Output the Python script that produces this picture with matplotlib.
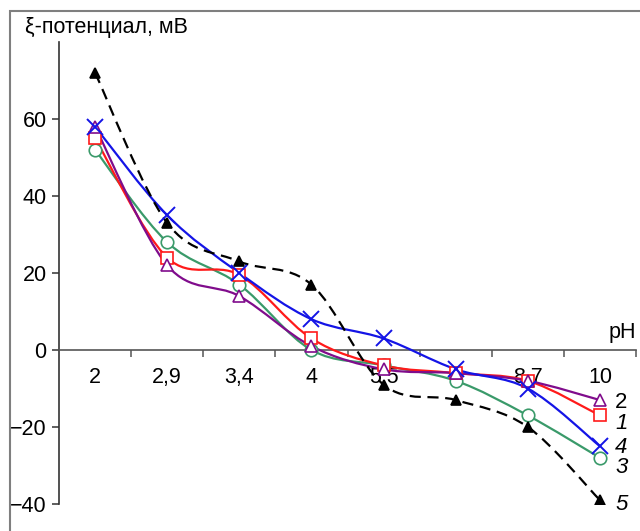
import matplotlib
matplotlib.use("Agg")
import matplotlib.pyplot as plt
import numpy as np
from matplotlib.path import Path
from matplotlib.patches import PathPatch, Rectangle

plt.rcParams['font.family'] = ['Liberation Sans', 'DejaVu Sans']

categories = ["2", "2,9", "3,4", "4", "5,5", "7", "8,7", "10"]
s1 = [55, 24, 19.5, 3, -4, -6, -8, -17]    # red squares
s2 = [58, 22, 14, 1, -5, -6, -8, -13]      # purple triangles
s3 = [52, 28, 17, 0, -4, -8, -17, -28]     # green circles
s4 = [58, 35, 20, 8, 3, -5, -10, -25]      # blue crosses
s5 = [72, 33, 23, 17, -9, -13, -20, -39]   # black dashed, filled triangles
yticks = [-40, -20, 0, 20, 40, 60]

FS = 15.5

fig = plt.figure(figsize=(6.4, 5.31), dpi=100)
# outer frame
fig.patches.append(Rectangle((10/640, -0.05), 1.0, 1 - 11/531 + 0.05,
                             transform=fig.transFigure, fill=False,
                             edgecolor='#7f7f7f', linewidth=1.5))
ax = fig.add_axes([59/640, 1 - 504/531, (636 - 59)/640, (504 - 42)/531])

x = np.arange(len(categories))


def smooth_path(xs, ys):
    pts = np.column_stack([xs, ys]).astype(float)
    n = len(pts)
    verts = [pts[0]]
    codes = [Path.MOVETO]
    for i in range(n - 1):
        p0 = pts[i - 1] if i > 0 else pts[i]
        p1 = pts[i]
        p2 = pts[i + 1]
        p3 = pts[i + 2] if i + 2 < n else pts[i + 1]
        c1 = p1 + (p2 - p0) / 6.0
        c2 = p2 - (p3 - p1) / 6.0
        verts += [c1, c2, p2]
        codes += [Path.CURVE4] * 3
    return Path(verts, codes)


series = [
    (s3, '#3a9a6a', 'o', 'none', 9, '-'),
    (s1, '#ff1a1a', 's', 'none', 9, '-'),
    (s2, '#800c8c', '^', 'none', 9, '-'),
    (s4, '#1414e6', 'x', 'none', 11, '-'),
    (s5, '#000000', '^', '#000000', 7, (0, (5, 3))),
]

for vals, col, mk, mfc, ms, ls in series:
    patch = PathPatch(smooth_path(x, vals), facecolor='none', edgecolor=col,
                      linewidth=1.6, linestyle=ls, zorder=3)
    ax.add_patch(patch)
    ax.plot(x, vals, linestyle='none', marker=mk, markersize=ms,
            markerfacecolor=mfc if mfc != 'none' else 'white',
            markeredgecolor=col, markeredgewidth=1.2 if mk != 'x' else 1.4,
            zorder=4)

# curve labels
labels = [(s2, "2", 'normal', -2), (s1, "1", 'italic', -6), (s4, "4", 'italic', -1),
          (s3, "3", 'italic', -7), (s5, "5", 'italic', -3)]
for vals, txt, style, dy in labels:
    ax.annotate(txt, xy=(x[-1], vals[-1]), xytext=(11, dy), textcoords='offset points',
                ha='left', va='center', fontsize=FS + 0.5, fontstyle=style)

ax.set_xlim(-0.5, len(categories) - 0.5)
ax.set_ylim(-40, 80)
ax.set_yticks(yticks)
ax.set_yticklabels([("\u2212" + str(-t)) if t < 0 else str(t) for t in yticks])

ax.spines['top'].set_visible(False)
ax.spines['right'].set_visible(False)
ax.spines['bottom'].set_position(('data', 0))
ax.spines['bottom'].set_color('#555555')
ax.spines['bottom'].set_linewidth(1.2)
ax.spines['left'].set_color('#333333')
ax.spines['left'].set_linewidth(1.2)

ax.set_xticks(np.arange(len(categories)) + 0.5)
ax.set_xticklabels([])
ax.set_xticks(x, minor=True)
ax.set_xticklabels(categories, minor=True)
ax.tick_params(axis='x', which='major', direction='out', length=5, width=1.1, color='#555555')
ax.tick_params(axis='x', which='minor', length=0, pad=12, labelsize=FS)
ax.tick_params(axis='y', direction='out', length=5, width=1.1, color='#333333',
               labelsize=FS, pad=4)

ax.annotate("pH", xy=(len(categories) - 0.5, 0), xytext=(0, 5), textcoords='offset points',
            ha='right', va='bottom', fontsize=FS)

fig.text(25/640, 1 - 28/531, "ξ-потенциал, мВ", fontsize=FS, ha='left', va='center')

fig.savefig("out.png", dpi=100)
